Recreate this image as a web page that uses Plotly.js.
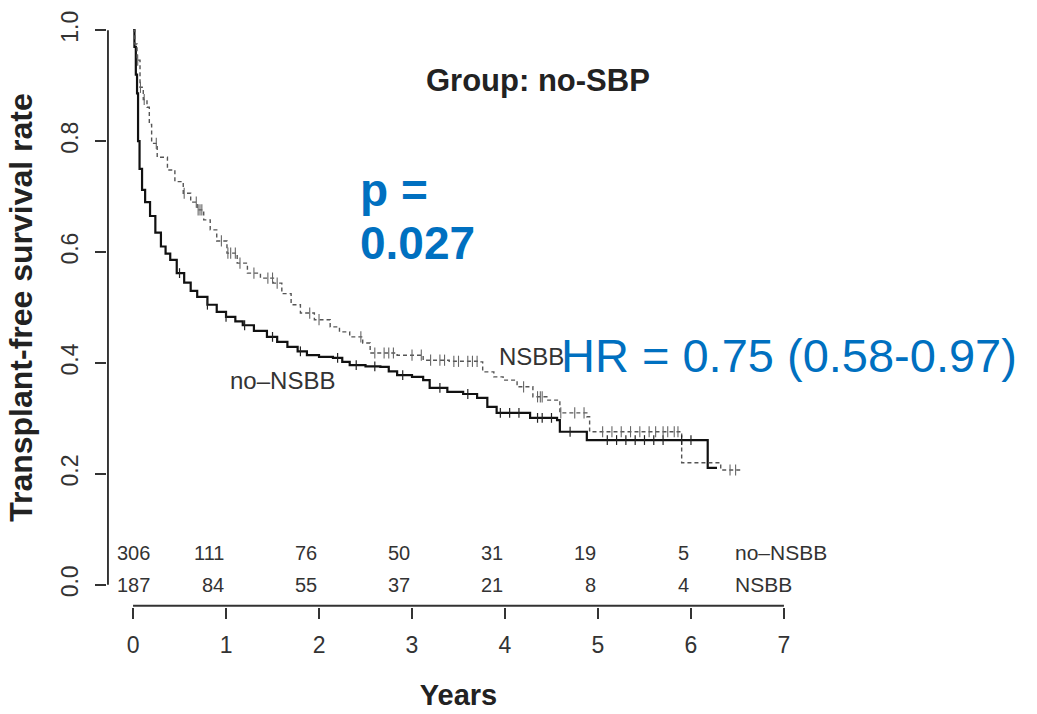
<!DOCTYPE html>
<html>
<head>
<meta charset="utf-8">
<script src="https://cdn.plot.ly/plotly-3.0.1.min.js"></script>
<style>html,body{margin:0;padding:0;background:#fff;}#chart{width:1037px;height:714px;}</style>
</head>
<body>
<div id="chart"></div>
<script>
// ---- Data ----
// no-NSBB (solid) Kaplan-Meier step points
const noNsbbTime = [0, 0.015, 0.03, 0.043, 0.054, 0.07, 0.097, 0.13, 0.183, 0.24, 0.30, 0.35, 0.40, 0.47, 0.55, 0.62, 0.69, 0.80, 0.90, 1.00, 1.10, 1.18, 1.30, 1.44, 1.55, 1.66, 1.77, 1.87, 2.00, 2.15, 2.25, 2.33, 2.50, 2.66, 2.75, 2.84, 3.00, 3.12, 3.19, 3.38, 3.55, 3.70, 3.81, 3.91, 4.27, 4.56, 4.59, 4.88, 6.18, 6.28];
const noNsbbSurv = [1.0, 0.97, 0.92, 0.886, 0.80, 0.75, 0.712, 0.69, 0.665, 0.635, 0.61, 0.597, 0.586, 0.562, 0.545, 0.530, 0.519, 0.505, 0.492, 0.483, 0.475, 0.468, 0.458, 0.447, 0.438, 0.429, 0.421, 0.414, 0.411, 0.409, 0.402, 0.396, 0.394, 0.393, 0.385, 0.378, 0.375, 0.369, 0.355, 0.348, 0.344, 0.337, 0.321, 0.310, 0.301, 0.297, 0.276, 0.261, 0.211, 0.211];
// NSBB (dashed) Kaplan-Meier step points
const nsbbTime = [0, 0.02, 0.043, 0.075, 0.11, 0.15, 0.175, 0.20, 0.26, 0.37, 0.45, 0.54, 0.62, 0.69, 0.76, 0.83, 0.90, 1.01, 1.12, 1.23, 1.37, 1.51, 1.60, 1.70, 1.80, 1.95, 2.12, 2.22, 2.33, 2.47, 2.55, 2.84, 3.12, 3.40, 3.73, 3.76, 3.88, 3.98, 4.13, 4.30, 4.45, 4.59, 4.88, 4.91, 5.88, 5.90, 6.32, 6.53];
const nsbbSurv = [1.0, 0.975, 0.946, 0.897, 0.875, 0.861, 0.83, 0.796, 0.771, 0.748, 0.727, 0.706, 0.69, 0.676, 0.658, 0.640, 0.62, 0.598, 0.580, 0.562, 0.553, 0.544, 0.525, 0.505, 0.490, 0.478, 0.465, 0.456, 0.447, 0.436, 0.418, 0.414, 0.405, 0.403, 0.402, 0.384, 0.375, 0.369, 0.357, 0.339, 0.333, 0.310, 0.303, 0.276, 0.274, 0.220, 0.207, 0.207];
// censoring times (tick marks)
const noNsbbCensor = [0.5, 0.8, 1.0, 1.2, 1.5, 1.8, 2.2, 2.4, 2.6, 2.9, 3.3, 3.6, 3.95, 4.05, 4.15, 4.35, 4.4, 4.5, 4.7, 5.1, 5.2, 5.3, 5.4, 5.5, 5.6, 5.7, 5.9, 6.0];
const nsbbCensor = [0.05, 0.08, 0.12, 0.25, 0.55, 0.68, 0.70, 0.72, 0.74, 0.95, 1.02, 1.05, 1.10, 1.15, 1.30, 1.45, 1.50, 1.55, 1.90, 2.00, 2.45, 2.60, 2.70, 2.75, 2.80, 3.00, 3.10, 3.20, 3.30, 3.35, 3.45, 3.50, 3.60, 3.65, 3.70, 4.20, 4.35, 4.38, 4.40, 4.60, 4.75, 4.85, 5.05, 5.15, 5.25, 5.35, 5.45, 5.55, 5.62, 5.70, 5.75, 5.82, 5.86, 6.42, 6.48];
// number at risk table
const riskYears = [0, 1, 2, 3, 4, 5, 6];
const riskNoNsbb = [306, 111, 76, 50, 31, 19, 5];
const riskNsbb = [187, 84, 55, 37, 21, 8, 4];
const groupLabels = ['no–NSBB', 'NSBB'];
const xTicks = [0, 1, 2, 3, 4, 5, 6, 7];
const yTicks = [0, 0.2, 0.4, 0.6, 0.8, 1.0];

function stepAt(times, surv, t) {
  let v = surv[0];
  for (let i = 0; i < times.length; i++) { if (times[i] <= t) v = surv[i]; else break; }
  return v;
}

const FONT = 'Liberation Sans, Arial, Helvetica, sans-serif';
const BLUE = '#0070C0';

const traces = [
  {x: noNsbbTime, y: noNsbbSurv, type: 'scatter', mode: 'lines', line: {shape: 'hv', color: '#111', width: 2.2}, hoverinfo: 'skip'},
  {x: nsbbTime, y: nsbbSurv, type: 'scatter', mode: 'lines', line: {shape: 'hv', color: '#555', width: 1.4, dash: '4px,3px'}, hoverinfo: 'skip'},
  {x: noNsbbCensor, y: noNsbbCensor.map(t => stepAt(noNsbbTime, noNsbbSurv, t)), type: 'scatter', mode: 'markers',
   marker: {symbol: 'line-ns-open', size: 7, color: '#222', line: {color: '#222', width: 1.2}}, hoverinfo: 'skip'},
  {x: nsbbCensor, y: nsbbCensor.map(t => stepAt(nsbbTime, nsbbSurv, t)), type: 'scatter', mode: 'markers',
   marker: {symbol: 'line-ns-open', size: 8, color: '#666', line: {color: '#666', width: 1.1}}, hoverinfo: 'skip'}
];

const annotations = [
  {x: 4.35, y: 0.91, xref: 'x', yref: 'y', text: '<b>Group: no-SBP</b>', showarrow: false, font: {family: FONT, size: 31, color: '#222'}},
  {x: 2.42, y: 0.712, xref: 'x', yref: 'y', xanchor: 'left', text: '<b>p =</b>', showarrow: false, font: {family: FONT, size: 46, color: BLUE}},
  {x: 2.42, y: 0.616, xref: 'x', yref: 'y', xanchor: 'left', text: '<b>0.027</b>', showarrow: false, font: {family: FONT, size: 46, color: BLUE}},
  {x: 4.58, y: 0.414, xref: 'x', yref: 'y', xanchor: 'left', text: 'HR = 0.75 (0.58-0.97)', showarrow: false, font: {family: FONT, size: 47, color: BLUE}},
  {x: 3.91, y: 0.411, xref: 'x', yref: 'y', xanchor: 'left', text: groupLabels[1], showarrow: false, font: {family: FONT, size: 24, color: '#333'}},
  {x: 1.02, y: 0.368, xref: 'x', yref: 'y', xanchor: 'left', text: groupLabels[0], showarrow: false, font: {family: FONT, size: 24, color: '#333'}},
  {x: 6.45, y: 0.058, xref: 'x', yref: 'y', xanchor: 'left', text: groupLabels[0], showarrow: false, font: {family: FONT, size: 21, color: '#333'}},
  {x: 6.45, y: 0.0, xref: 'x', yref: 'y', xanchor: 'left', text: groupLabels[1], showarrow: false, font: {family: FONT, size: 21, color: '#333'}}
];
riskYears.forEach((yr, i) => {
  annotations.push({x: yr, y: 0.058, xref: 'x', yref: 'y', xanchor: yr === 0 ? 'center' : 'right', text: String(riskNoNsbb[i]), showarrow: false, font: {family: FONT, size: 20, color: '#333'}});
  annotations.push({x: yr, y: 0.0, xref: 'x', yref: 'y', xanchor: yr === 0 ? 'center' : 'right', text: String(riskNsbb[i]), showarrow: false, font: {family: FONT, size: 20, color: '#333'}});
});

const layout = {
  width: 1037, height: 714,
  margin: {l: 107, r: 227, t: 8, b: 107},
  paper_bgcolor: '#fff', plot_bgcolor: '#fff',
  showlegend: false,
  font: {family: FONT, color: '#333'},
  xaxis: {
    range: [-0.28, 7.28], showgrid: false, zeroline: false, showline: false,
    tickvals: xTicks, ticktext: xTicks.map(String),
    ticks: 'outside', ticklen: 11, tickwidth: 2, tickcolor: '#333', ticklabelstandoff: 6,
    tickfont: {family: FONT, size: 23, color: '#333'},
    title: {text: '<b>Years</b>', font: {family: FONT, size: 29, color: '#222'}, standoff: 28}
  },
  yaxis: {
    range: [-0.04, 1.04], showgrid: false, zeroline: false, showline: false,
    tickvals: yTicks, ticktext: yTicks.map(v => v.toFixed(1)),
    ticks: 'outside', ticklen: 11, tickwidth: 2, tickcolor: '#333', tickangle: -90, ticklabelstandoff: 8,
    tickfont: {family: FONT, size: 23, color: '#333'},
    title: {text: '<b>Transplant-free survival rate</b>', font: {family: FONT, size: 32, color: '#222'}, standoff: 14}
  },
  shapes: [
    {type: 'line', xref: 'x', yref: 'paper', x0: 0, x1: 7, y0: 0.002, y1: 0.002, line: {color: '#333', width: 2}},
    {type: 'line', xref: 'x', yref: 'y', x0: -0.27, x1: -0.27, y0: 0, y1: 1, line: {color: '#333', width: 2}}
  ],
  annotations: annotations
};

Plotly.newPlot('chart', traces, layout, {displayModeBar: false, staticPlot: true});
</script>
</body>
</html>
